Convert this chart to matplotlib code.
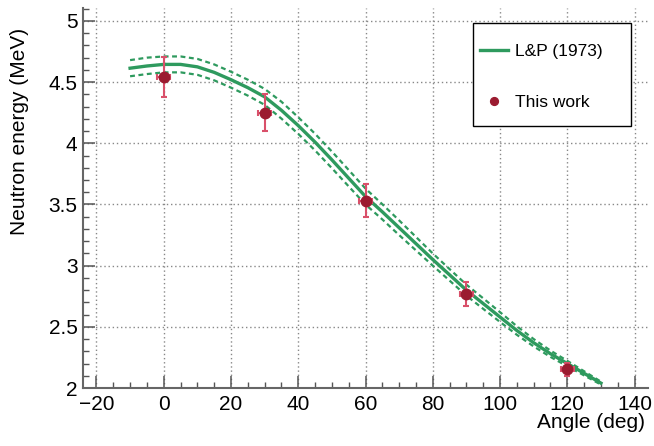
import numpy as np
import matplotlib.pyplot as plt
from matplotlib.ticker import MultipleLocator
from matplotlib.patches import Rectangle

plt.rcParams['font.family'] = ['Liberation Sans', 'DejaVu Sans']

# L&P (1973) kinematics curve with its band
lp_angle = [-10, -5, 0, 5, 10, 15, 20, 25, 30, 35, 40, 45, 50, 55, 60,
            65, 70, 75, 80, 85, 90, 95, 100, 105, 110, 115, 120, 125, 130]
lp_energy = [4.614, 4.632, 4.645, 4.645, 4.625, 4.58, 4.52, 4.455, 4.38, 4.27, 4.145, 4.01, 3.865, 3.715, 3.565,
             3.44, 3.31, 3.18, 3.05, 2.925, 2.80, 2.69, 2.58, 2.47, 2.37, 2.28, 2.20, 2.12, 2.04]
lp_upper = [4.68, 4.70, 4.71, 4.71, 4.69, 4.645, 4.585, 4.52, 4.445, 4.34, 4.213, 4.078, 3.933, 3.782, 3.63,
            3.502, 3.37, 3.235, 3.10, 2.972, 2.845, 2.733, 2.62, 2.505, 2.40, 2.306, 2.222, 2.137, 2.052]
lp_lower = [4.548, 4.566, 4.58, 4.58, 4.56, 4.515, 4.455, 4.39, 4.315, 4.202, 4.077, 3.942, 3.797, 3.648, 3.50,
            3.378, 3.25, 3.125, 3.00, 2.878, 2.755, 2.647, 2.54, 2.435, 2.34, 2.254, 2.178, 2.103, 2.028]

# measured points
angle = [0, 30, 60, 90, 120]
energy = [4.545, 4.25, 3.53, 2.77, 2.153]
energy_err = [0.163, 0.152, 0.135, 0.10, 0.055]
angle_err = [2, 2, 2, 2, 2]

green = '#2e9a5e'
dark_red = '#9b1b30'
pink = '#d9506a'

W, H = 654, 446
fig = plt.figure(figsize=(W/100, H/100), dpi=100)
ax = fig.add_axes([83/W, 1-388/H, (648-83)/W, (388-8)/H])

ax.plot(lp_angle, lp_upper, color=green, lw=1.6, ls=(0, (2.2, 1.6)), zorder=3)
ax.plot(lp_angle, lp_lower, color=green, lw=1.6, ls=(0, (2.2, 1.6)), zorder=3)
ax.plot(lp_angle, lp_energy, color=green, lw=2.4, zorder=3, label='L&P (1973)')

ax.errorbar(angle, energy, yerr=energy_err, xerr=angle_err, fmt='none',
            ecolor=pink, elinewidth=1.5, capsize=2.2, capthick=1.5, zorder=4)
ax.plot(angle, energy, 'o', color=dark_red, ms=7.5, zorder=5, ls='none', label='This work')

ax.set_xlim(-24, 144)
ax.set_ylim(2, 5.106)

ax.xaxis.set_major_locator(MultipleLocator(20))
ax.xaxis.set_minor_locator(MultipleLocator(5))
ax.yaxis.set_major_locator(MultipleLocator(0.5))
ax.yaxis.set_minor_locator(MultipleLocator(0.1))
ax.yaxis.set_major_formatter(plt.FuncFormatter(lambda v, p: '%g' % v))
ax.xaxis.set_major_formatter(plt.FuncFormatter(lambda v, p: ('\u2212%g' % -v) if v < 0 else '%g' % v))

ax.tick_params(which='both', direction='in', colors='#555555', labelcolor='black', labelsize=15)
ax.tick_params(which='major', length=8.5, width=1.1)
ax.tick_params(which='minor', length=4.3, width=1.0)
ax.tick_params(axis='x', pad=5)
ax.tick_params(axis='y', pad=4)

ax.spines['top'].set_visible(False)
ax.spines['right'].set_visible(False)
for s in ['left', 'bottom']:
    ax.spines[s].set_color('#666666')
    ax.spines[s].set_linewidth(1.5)

ax.grid(True, which='major', color='#888888', ls=(0, (1, 2)), lw=1.0)
ax.set_axisbelow(True)

fig.text(20/W, 1-28/H, 'Neutron energy (MeV)', rotation=90, ha='center', va='top', fontsize=15)
fig.text(645/W, 1-423/H, 'Angle (deg)', ha='right', va='center', fontsize=15)

# legend box drawn separately, entries placed inside it
box = Rectangle((473/W, 1-126/H), (631-473)/W, (126-23)/H, transform=fig.transFigure,
                facecolor='white', edgecolor='black', lw=1.0, zorder=6, clip_on=False)
ax.add_patch(box)
leg = ax.legend(loc='upper left', bbox_to_anchor=(480/W, 1-43.5/H), bbox_transform=fig.transFigure,
                fontsize=12.5, frameon=False, borderpad=0, borderaxespad=0,
                labelspacing=2.1, handlelength=1.6, handletextpad=0.42, markerscale=0.75)
leg.set_zorder(7)

fig.savefig('out.png', dpi=100)
